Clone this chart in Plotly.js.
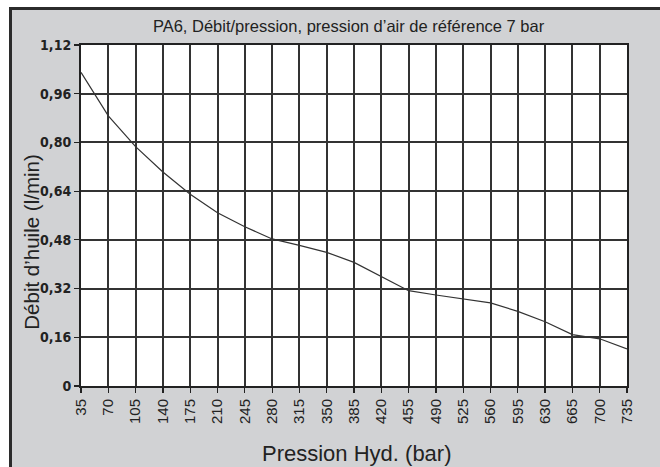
<!DOCTYPE html>
<html>
<head>
<meta charset="utf-8">
<script src="https://cdn.plot.ly/plotly-3.0.1.min.js"></script>
<style>html,body{margin:0;padding:0;background:#fff;}#chart{width:660px;height:467px;}</style>
</head>
<body>
<div id="chart"></div>
<script>
const pressure = [35,70,105,140,175,210,245,280,315,350,385,420,455,490,525,560,595,630,665,700,735];
const debit = [1.030,0.887,0.786,0.703,0.630,0.569,0.523,0.483,0.462,0.439,0.406,0.360,0.313,0.299,0.286,0.273,0.245,0.211,0.169,0.155,0.122];
const yTickVals = [0,0.16,0.32,0.48,0.64,0.80,0.96,1.12];
const yTickText = ['0','0,16','0,32','0,48','0,64','0,80','0,96','1,12'];
const chartTitle = 'PA6, Débit/pression, pression d’air de référence 7 bar';
const xTitle = 'Pression Hyd. (bar)';
const yTitle = 'Débit d’huile (l/min)';

const W = 660, H = 467;
const L = 81, R = 627, T = 45, B = 386.5;
const px = v => (v - L) / (R - L);
const py = v => (B - v) / (B - T);

const gray = '#d1d2d4';
const dark = '#222';

const trace = {
  x: pressure, y: debit, type: 'scatter', mode: 'lines',
  line: {color: '#333', width: 1.2}, hoverinfo: 'skip'
};

const layout = {
  width: W, height: H,
  margin: {l: L, r: W - R, t: T, b: H - B},
  paper_bgcolor: '#ffffff',
  plot_bgcolor: '#ffffff',
  showlegend: false,
  title: {
    text: chartTitle,
    font: {family: 'Liberation Sans, Arial, sans-serif', size: 16.5, color: dark},
    xref: 'paper', x: 0.49, xanchor: 'center',
    yref: 'container', y: 1 - 26/H, yanchor: 'middle'
  },
  xaxis: {
    range: [35, 735], tickmode: 'array', tickvals: pressure,
    tickangle: -90, ticks: 'outside', ticklen: 5, tickcolor: dark, tickwidth: 1.2,
    tickfont: {family: 'Liberation Sans, Arial, sans-serif', size: 15, color: dark},
    showgrid: true, gridcolor: '#333', gridwidth: 2,
    showline: true, linecolor: dark, linewidth: 2, mirror: true,
    zeroline: false, fixedrange: true
  },
  yaxis: {
    range: [0, 1.12], tickmode: 'array', tickvals: yTickVals, ticktext: yTickText,
    ticks: 'outside', ticklen: 5, tickcolor: dark, tickwidth: 1.2,
    tickfont: {family: 'Liberation Sans Narrow, DejaVu Sans Condensed, sans-serif', size: 14, color: dark, weight: 'bold'},
    showgrid: true, gridcolor: '#333', gridwidth: 2,
    showline: true, linecolor: dark, linewidth: 2, mirror: true,
    zeroline: false, fixedrange: true
  },
  shapes: [
    {type: 'rect', xref: 'paper', yref: 'paper', layer: 'below',
     x0: px(10.5), x1: px(720), y0: py(8.5), y1: py(520),
     fillcolor: gray, line: {color: '#2b2b2b', width: 3}},
    {type: 'rect', xref: 'paper', yref: 'paper', layer: 'below',
     x0: 0, x1: 1, y0: 0, y1: 1, fillcolor: '#ffffff', line: {width: 0}}
  ],
  annotations: [
    {text: xTitle, xref: 'paper', yref: 'paper', x: px(357), y: py(454),
     xanchor: 'center', yanchor: 'middle', showarrow: false,
     font: {family: 'Liberation Sans, Arial, sans-serif', size: 22, color: dark}},
    {text: yTitle, xref: 'paper', yref: 'paper', x: px(32), y: py(243),
     xanchor: 'center', yanchor: 'middle', showarrow: false, textangle: -90,
     font: {family: 'Liberation Sans, Arial, sans-serif', size: 20.5, color: dark}}
  ]
};

Plotly.newPlot('chart', [trace], layout, {staticPlot: true, displayModeBar: false});
</script>
</body>
</html>
